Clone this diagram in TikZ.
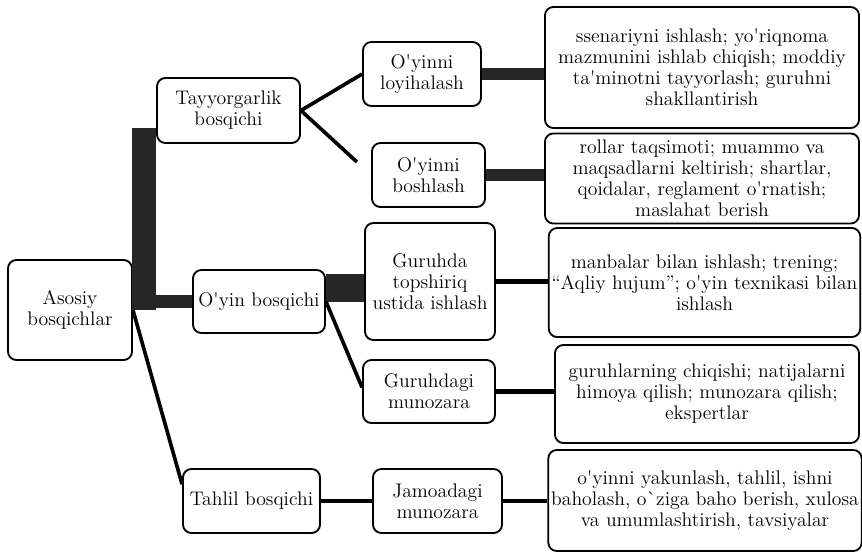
\documentclass[tikz,border=0pt]{standalone}
\usepackage{fontspec}
\newcommand{\ap}{\textquotesingle}
\usetikzlibrary{positioning,calc}

\begin{document}
\begin{tikzpicture}[
  x=0.025cm, y=-0.025cm,
  font=\fontsize{14}{14.9}\selectfont,
  box/.style={draw=black, fill=white, rounded corners=6pt, line width=1.3pt, align=center, inner sep=2pt},
  heavy/.style={line width=0.32cm, draw=black!85},
  link/.style={line width=3.4pt},
  slim/.style={line width=2.6pt}]

\useasboundingbox (0,0) rectangle (862,553);

% stages
\node[box, minimum width=3.1cm, minimum height=2.5cm] (asosiy) at (70,310) {Asosiy\\bosqichlar};
\node[box, minimum width=3.575cm, minimum height=1.625cm] (tayyor) at (228.5,110.5) {Tayyorgarlik\\bosqichi};
\node[box, minimum width=3.3cm, minimum height=1.575cm] (oyin) at (259,301.5) {O\ap yin bosqichi};
\node[box, minimum width=3.425cm, minimum height=1.6cm] (tahlil) at (251.5,501) {Tahlil bosqichi};

% steps
\node[box, minimum width=2.95cm, minimum height=1.6cm] (loyiha) at (422,74) {O\ap yinni\\loyihalash};
\node[box, minimum width=2.825cm, minimum height=1.6cm] (boshlash) at (428.5,175) {O\ap yinni\\boshlash};
\node[box, minimum width=3.25cm, minimum height=2.925cm] (topshiriq) at (430,281.5) {Guruhda\\topshiriq\\ustida ishlash};
\node[box, minimum width=3.3cm, minimum height=1.575cm] (gmunoz) at (429,391.5) {Guruhdagi\\munozara};
\node[box, minimum width=3.225cm, minimum height=1.6cm] (jamoa) at (437.5,501) {Jamoadagi\\munozara};

% contents
\node[box, minimum width=7.85cm, minimum height=3.025cm] (r1) at (702,67.5) {ssenariyni ishlash; yo\ap riqnoma\\mazmunini ishlab chiqish; moddiy\\ta\ap minotni tayyorlash; guruhni\\shakllantirish};
\node[box, minimum width=7.85cm, minimum height=2.25cm] (r2) at (702,178.5) {rollar taqsimoti; muammo va\\maqsadlarni keltirish; shartlar,\\qoidalar, reglament o\ap rnatish;\\maslahat berish};
\node[box, minimum width=7.725cm, minimum height=2.725cm] (r3) at (704.5,282.5) {manbalar bilan ishlash; trening;\\“Aqliy hujum”; o\ap yin texnikasi bilan\\ishlash};
\node[box, minimum width=7.6cm, minimum height=2.45cm] (r4) at (707,394) {guruhlarning chiqishi; natijalarni\\himoya qilish; munozara qilish;\\ekspertlar};
\node[box, minimum width=7.7cm, minimum height=2.525cm] (r5) at (705,500.5) {o\ap yinni yakunlash, tahlil, ishni\\baholash, o\textasciigrave ziga baho berish, xulosa\\va umumlashtirish, tavsiyalar};

% thick trunk
\coordinate (bartop) at ([xshift=-0.3cm,yshift=-0.44cm]tayyor.west);
\coordinate (oyintop) at ([yshift=0.34cm]oyin.east);
\draw[line width=0.6cm, draw=black!85] (bartop) -- (bartop |- asosiy.east);
\draw[heavy] (bartop |- oyin.west) -- (oyin.west);
\draw[line width=0.7cm, draw=black!85] (oyintop) -- (oyintop -| topshiriq.west);

% branches
\draw[slim] (tayyor.east) -- (loyiha.west);
\draw[slim, shorten >=0.48cm] (tayyor.east) -- (boshlash.west);
\draw[slim] (oyin.east) -- ([yshift=0.1cm]gmunoz.west);
\draw[slim] (asosiy.east) -- ([yshift=0.42cm]tahlil.west);

\draw[heavy] (loyiha.east) -- (loyiha.east -| r1.west);
\draw[heavy] (boshlash.east) -- (boshlash.east -| r2.west);
\draw[link] (topshiriq.east) -- (topshiriq.east -| r3.west);
\draw[link] (gmunoz.east) -- (gmunoz.east -| r4.west);
\draw[link] (tahlil.east) -- (jamoa.west);
\draw[link] (jamoa.east) -- (jamoa.east -| r5.west);

\end{tikzpicture}
\end{document}
